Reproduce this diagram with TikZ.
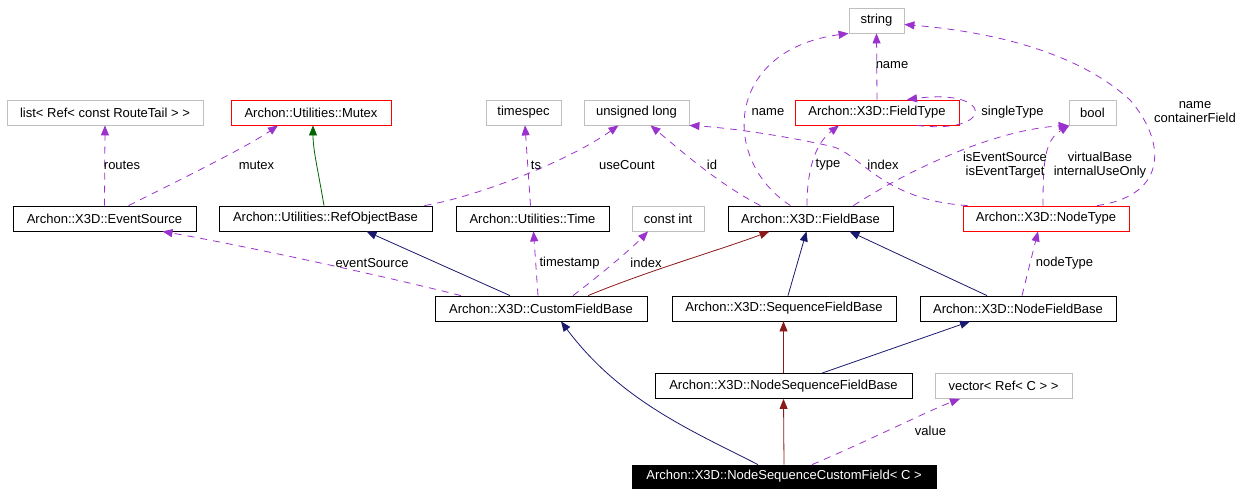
\documentclass[tikz,border=0pt]{standalone}
\usepackage{fontspec}
\setmainfont{Liberation Sans}
\usetikzlibrary{arrows.meta}
\definecolor{usecol}{HTML}{9A32CD}
\definecolor{navycol}{HTML}{191970}
\definecolor{redcol}{HTML}{8B1A1A}
\definecolor{greencol}{HTML}{006400}
\definecolor{graycol}{HTML}{BFBFBF}
\tikzset{
  cls/.style={draw=black, line width=0.8pt, minimum height=25, inner sep=0pt, font=\fontsize{13}{15}\selectfont},
  extcls/.style={cls, draw=graycol},
  redcls/.style={cls, draw=red},
  focus/.style={cls, fill=black, text=white, minimum height=23},
  tip/.style={-{Triangle[length=10pt,width=8pt]}},
  uses/.style={tip, draw=usecol, line width=0.8pt, dash pattern=on 7pt off 6pt},
  inhnavy/.style={tip, draw=navycol, line width=0.8pt},
  inhred/.style={tip, draw=redcol, line width=0.8pt},
  inhgreen/.style={tip, draw=greencol, line width=0.8pt},
  lbl/.style={font=\fontsize{13}{14.5}\selectfont, inner sep=0pt, align=center}
}
\begin{document}
\begin{tikzpicture}[x=1pt, y=-1pt]
\useasboundingbox (0,0) rectangle (1253,496);
% nodes
\node[extcls, minimum width=196] (list) at (105,112.5) {list< Ref< const RouteTail > >};
\node[redcls, minimum width=160] (mutex) at (311,112.5) {Archon::Utilities::Mutex};
\node[extcls, minimum width=75] (timespec) at (523.5,112.5) {timespec};
\node[extcls, minimum width=105] (ulong) at (636.5,112.5) {unsigned long};
\node[extcls, minimum width=55] (string) at (876.5,20.5) {string};
\node[redcls, minimum width=164] (fieldtype) at (877,112.5) {Archon::X3D::FieldType};
\node[extcls, minimum width=47] (bool) at (1092.5,112.5) {bool};
\node[cls, minimum width=183] (es) at (104.5,218.5) {Archon::X3D::EventSource};
\node[cls, minimum width=213] (refobj) at (325.5,218.5) {Archon::Utilities::RefObjectBase};
\node[cls, minimum width=153] (time) at (532.5,218.5) {Archon::Utilities::Time};
\node[extcls, minimum width=72] (constint) at (668,218.5) {const int};
\node[cls, minimum width=165] (fieldbase) at (810.5,218.5) {Archon::X3D::FieldBase};
\node[redcls, minimum width=166] (nodetype) at (1046,218.5) {Archon::X3D::NodeType};
\node[cls, minimum width=212] (customfb) at (541,308.5) {Archon::X3D::CustomFieldBase};
\node[cls, minimum width=224] (seqfb) at (784,308.5) {Archon::X3D::SequenceFieldBase};
\node[cls, minimum width=196] (nodefb) at (1018,308.5) {Archon::X3D::NodeFieldBase};
\node[cls, minimum width=257] (nodeseqfb) at (783.5,386) {Archon::X3D::NodeSequenceFieldBase};
\node[extcls, minimum width=137] (vector) at (1003.5,386) {vector< Ref< C > >};
\node[focus, minimum width=304] (nscf) at (784,476.5) {Archon::X3D::NodeSequenceCustomField< C >};

% edges, top rows
\draw[uses] (es.north) -- (list.south);
\draw[uses] ([xshift=24pt]es.north) .. controls (190,175) and (250,145) .. ([xshift=-33pt]mutex.south);
\draw[inhgreen] ([xshift=-1.5pt]refobj.north) .. controls (318,170) and (313,150) .. ([xshift=2pt]mutex.south);
\draw[uses] ([xshift=-8pt]refobj.north east) .. controls (480,196) and (570,160) .. ([xshift=-18pt]ulong.south);
\draw[uses] ([xshift=-2pt]time.north) -- ([xshift=1.5pt]timespec.south);
\draw[uses] ([xshift=-50pt]fieldbase.north) .. controls (720,185) and (680,150) .. ([xshift=14pt]ulong.south);
\draw[uses] ([xshift=-20pt]fieldbase.north) .. controls (720,160) and (725,50) .. (string.south west);
\draw[uses] ([xshift=-3.5pt]fieldbase.north) .. controls (807,160) and (820,140) .. ([xshift=-38pt]fieldtype.south);
\draw[uses] (fieldtype.north) -- (string.south);
\draw[uses] ([xshift=40pt]fieldtype.south) .. controls (995,135) and (995,88) .. ([xshift=30pt]fieldtype.north);
\draw[uses] ([xshift=5pt]nodetype.north west) .. controls (880,200) and (860,152) .. (830,146) .. controls (780,135) and (730,128) .. (ulong.south east);
\draw[uses] ([xshift=-40pt]fieldbase.north east) .. controls (900,175) and (990,130) .. (bool.south west);
\draw[uses] ([xshift=-3pt]nodetype.north) .. controls (1043,160) and (1045,140) .. ([xshift=-23pt]bool.south);
\draw[uses] ([xshift=51pt]nodetype.north) .. controls (1170,195) and (1165,140) .. (1130,100) .. controls (1070,45) and (970,30) .. ([yshift=-4pt]string.east);

% middle rows
\draw[uses] ([xshift=-80pt]customfb.north) .. controls (380,275) and (240,245) .. ([xshift=58pt]es.south);
\draw[inhnavy] ([xshift=-31pt]customfb.north) -- ([xshift=41pt]refobj.south);
\draw[uses] ([xshift=-3pt]customfb.north) -- ([xshift=1pt]time.south);
\draw[uses] ([xshift=32pt]customfb.north) .. controls (600,275) and (630,250) .. ([xshift=-20pt]constint.south);
\draw[inhred] ([xshift=47pt]customfb.north) .. controls (650,270) and (720,250) .. ([xshift=-41pt]fieldbase.south);
\draw[inhnavy] ([xshift=4pt]seqfb.north) -- ([xshift=-4pt]fieldbase.south);
\draw[inhnavy] ([xshift=-31pt]nodefb.north) -- ([xshift=39pt]fieldbase.south);
\draw[uses] ([xshift=4pt]nodefb.north) -- ([xshift=-8pt]nodetype.south);
\draw[inhred] (nodeseqfb.north) -- (nodeseqfb.north |- seqfb.south);
\draw[inhnavy] ([xshift=38.5pt]nodeseqfb.north) -- ([xshift=-48pt]nodefb.south);
\draw[inhnavy] ([xshift=-26pt]nscf.north) .. controls (690,430) and (620,400) .. ([xshift=20pt]customfb.south);
\draw[inhred] (nscf.north) -- (nodeseqfb.south);
\draw[uses] ([xshift=28pt]nscf.north) .. controls (870,440) and (930,410) .. ([xshift=-43.5pt]vector.south);

% labels
\node[lbl] (l1) at (122,165) {routes};
\node[lbl] (l2) at (256.5,165) {mutex};
\node[lbl] (l3) at (627,165) {useCount};
\node[lbl] (l4) at (536,165) {ts};
\node[lbl] (l5) at (712,165) {id};
\node[lbl] (l6) at (768,112) {name};
\node[lbl] (l7) at (828,165) {type};
\node[lbl] (l8) at (892,65) {name};
\node[lbl] (l9) at (1012.5,112) {singleType};
\node[lbl] (l10) at (883,165) {index};
\node[lbl] (l11) at (1005,165) {isEventSource\\isEventTarget};
\node[lbl] (l12) at (1100,165) {virtualBase\\internalUseOnly};
\node[lbl] (l13) at (1195,112) {name\\containerField};
\node[lbl] (l14) at (372,263) {eventSource};
\node[lbl] (l15) at (569.5,263) {timestamp};
\node[lbl] (l16) at (646,263) {index};
\node[lbl] (l17) at (1064.5,263) {nodeType};
\node[lbl] (l18) at (930.5,431) {value};
\end{tikzpicture}
\end{document}
